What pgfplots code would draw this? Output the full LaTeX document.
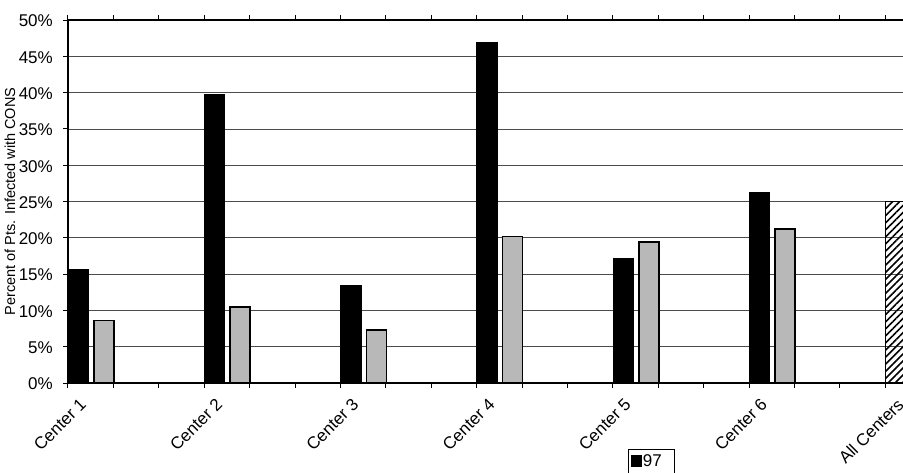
\documentclass[border=0pt]{standalone}
\usepackage{pgfplots}
\pgfplotsset{compat=1.18}
\usepackage{fontspec}
\setmainfont{Liberation Sans}
\usetikzlibrary{patterns.meta}
\newcommand{\lf}{\fontsize{17}{20}\selectfont}
\begin{document}
\begin{tikzpicture}
\begin{axis}[
  scale only axis,
  width=870pt, height=363pt,
  xmin=0, xmax=870, ymin=0, ymax=50,
  clip=false,
  axis line style={line width=2pt},
  tick align=outside,
  ytick={0,5,...,50},
  yticklabels={{\lf 0\%},{\lf 5\%},{\lf 10\%},{\lf 15\%},{\lf 20\%},{\lf 25\%},{\lf 30\%},{\lf 35\%},{\lf 40\%},{\lf 45\%},{\lf 50\%}},
  yticklabel style={anchor=east, inner sep=0pt, xshift=-10pt, yshift=-1pt},
  ymajorgrids,
  major grid style={black!70, line width=0.8pt},
  xtick={10,146.2,282.4,418.6,554.8,691,827.2},
  xticklabels={{\lf Center 1},{\lf Center 2},{\lf Center 3},{\lf Center 4},{\lf Center 5},{\lf Center 6},{\lf All Centers}},
  major x tick style={draw=none},
  minor xtick={0,45.4,90.8,136.2,181.6,227,272.4,317.8,363.2,408.6,454,499.4,544.8,590.2,635.6,681,726.4,771.8,817.2,862.6},
  minor x tick style={black,line width=1pt},
  minor tick length=5pt,
  major tick length=5pt,
  ytick style={black, line width=1pt},
  xticklabel style={rotate=45, anchor=north east, inner sep=0pt, xshift=-6pt, yshift=-7pt},
  legend style={at={(axis cs:560,-9.09)}, anchor=north west, draw=black, line width=0.8pt,
    inner xsep=3pt, inner ysep=4pt, row sep=12pt, nodes={inner sep=1pt}},
  legend cell align=left,
  legend image code/.code={\draw[#1, line width=0.5pt] (0pt,-5.5pt) rectangle (10pt,5.5pt);},
]
\addplot[ybar, bar width=20.5, bar shift=0, fill=black, draw=black, line width=1pt]
  coordinates {(10.5,15.7) (146.7,39.8) (282.9,13.4) (419.1,46.9) (555.3,17.2) (691.5,26.2)};
\addlegendentry{\lf 97\rule{9pt}{0pt}}
\addplot[ybar, bar width=20, bar shift=0, fill=black!28, draw=black, line width=1.6pt]
  coordinates {(36,8.6) (172.2,10.5) (308.4,7.3) (444.6,20.2) (580.8,19.4) (717,21.2)};
\addlegendentry{\lf 98\rule{9pt}{0pt}}
\addplot[ybar, bar width=20.5, bar shift=0, draw=black, line width=1.8pt, forget plot,
  pattern={Lines[angle=45,distance=5pt,line width=1.6pt]}]
  coordinates {(827.7,25.0)};
\node[rotate=90, font=\fontsize{14.5}{17}\selectfont] at ([xshift=-58pt]rel axis cs:0,0.5) {Percent of Pts. Infected with CONS};
\end{axis}
\pgfresetboundingbox
\useasboundingbox (-68pt,-89pt) rectangle (835pt,383pt);
\end{tikzpicture}
\end{document}
